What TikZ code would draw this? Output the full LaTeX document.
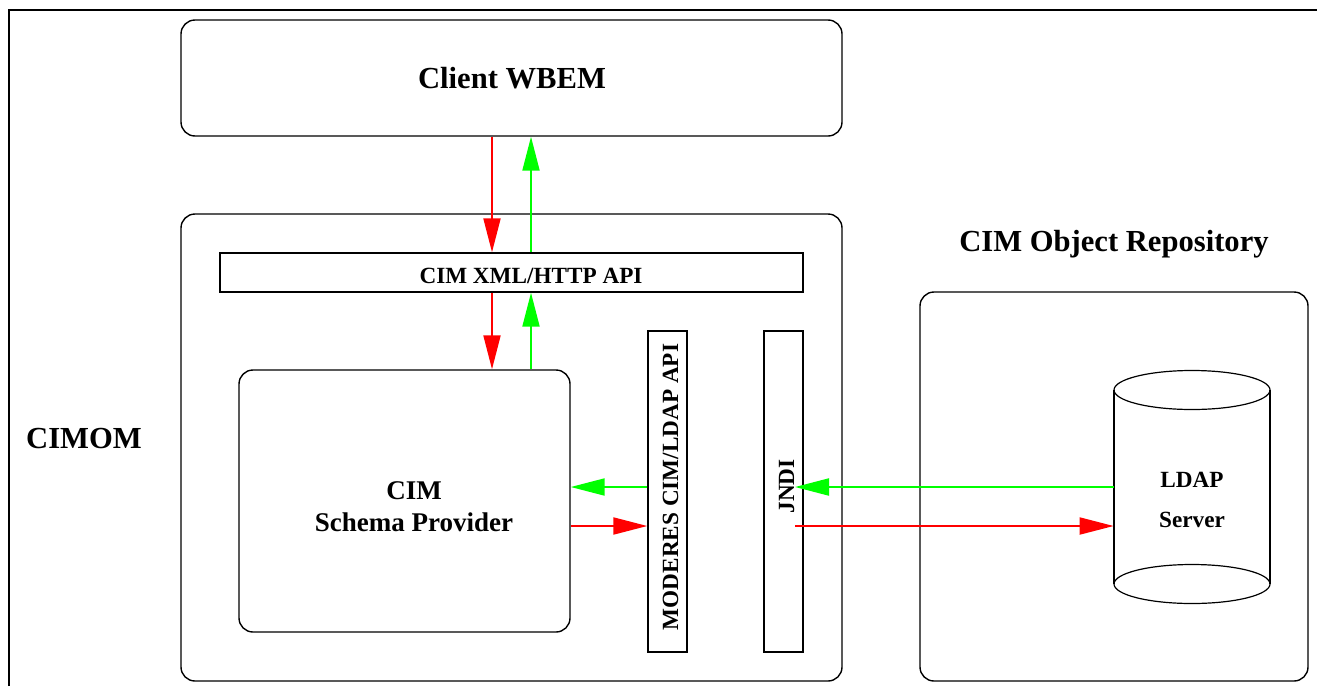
\documentclass[tikz,border=0pt]{standalone}
\usepackage{fontspec}
\setmainfont{Liberation Serif}
\usetikzlibrary{arrows.meta}
\begin{document}
\begin{tikzpicture}[x=0.5pt,y=-0.5pt,
  box/.style={draw,line width=0.7pt,rounded corners=7pt,inner sep=0pt},
  sbox/.style={draw,line width=0.7pt,inner sep=0pt},
  big/.style={font=\fontsize{15.3pt}{18pt}\selectfont\bfseries,inner sep=0pt,anchor=base},
  mid/.style={font=\fontsize{11.6pt}{14pt}\selectfont\bfseries,inner sep=0pt,anchor=base},
  schem/.style={font=\fontsize{13.5pt}{16pt}\selectfont\bfseries,inner sep=0pt,anchor=base},
  redarr/.style={draw=red,line width=1pt,-{Triangle[length=17pt,width=8.5pt]},red},
  greenarr/.style={draw=green,line width=1pt,-{Triangle[length=17pt,width=8.5pt]},green},
]
\useasboundingbox (0,0) rectangle (1317,686);
% frame
\draw[line width=1.1pt] (9,686) -- (9,10) -- (1317,10);
% boxes
\node[box,minimum width=330.5pt,minimum height=58pt] (client) at (511.5,78) {};
\node[box,minimum width=330.5pt,minimum height=233.5pt] (cimom) at (511.5,447.5) {};
\node[sbox,minimum width=291.5pt,minimum height=19.5pt] (api) at (511.5,272.5) {};
\node[box,minimum width=165.5pt,minimum height=131pt] (schema) at (404.5,501) {};
\node[sbox,minimum width=19.5pt,minimum height=160.5pt] (moderes) at (667.5,491.5) {};
\node[sbox,minimum width=19.5pt,minimum height=160.5pt] (jndi) at (783.5,491.5) {};
\node[box,minimum width=194pt,minimum height=194.5pt] (repo) at (1114,486.5) {};
% cylinder
\draw[line width=0.6pt] (1192,390) ellipse [x radius=78, y radius=19.5];
\draw[line width=0.6pt] (1192,584) ellipse [x radius=78, y radius=19.5];
\draw[line width=0.6pt] (1114,390) -- (1114,584) (1270,390) -- (1270,584);
\node[inner sep=0pt,minimum width=78pt,minimum height=97pt] (ldap) at (1192,487) {};
% texts
\node[big] (tclient) at (512,88) {Client WBEM};
\node[big] (tcimom) at (84,448) {CIMOM};
\node[big] (trepo) at (1114,251) {CIM Object Repository};
\node[mid] (tapi) at (531,283) {CIM XML/HTTP API};
\node[schem] (tcim) at (414,499) {CIM};
\node[schem] (tschema) at (414,531) {Schema Provider};
\node[mid,rotate=90] (tmod) at (678,487) {MODERES CIM/LDAP API};
\node[mid,rotate=90] (tjndi) at (794,486.5) {JNDI};
\node[mid] (tldap) at (1192,487) {LDAP};
\node[mid] (tserver) at (1192,527) {Server};
% helper coordinates
\coordinate (xr) at (492,0);
\coordinate (xg) at (531,0);
\coordinate (yg) at (0,487);
\coordinate (yr) at (0,526);
\coordinate (jg) at (795,487);
\coordinate (jr) at (795,526);
% arrows
\draw[redarr] (client.south -| xr) -- (api.north -| xr);
\draw[greenarr] (api.north -| xg) -- (client.south -| xg);
\draw[redarr] (api.south -| xr) -- (schema.north -| xr);
\draw[greenarr] (schema.north -| xg) -- (api.south -| xg);
\draw[greenarr] (moderes.west |- yg) -- (schema.east |- yg);
\draw[redarr] (schema.east |- yr) -- (moderes.west |- yr);
\draw[greenarr] (ldap.west |- yg) -- (jg);
\draw[redarr] (jr) -- (ldap.west |- yr);
\end{tikzpicture}
\end{document}
